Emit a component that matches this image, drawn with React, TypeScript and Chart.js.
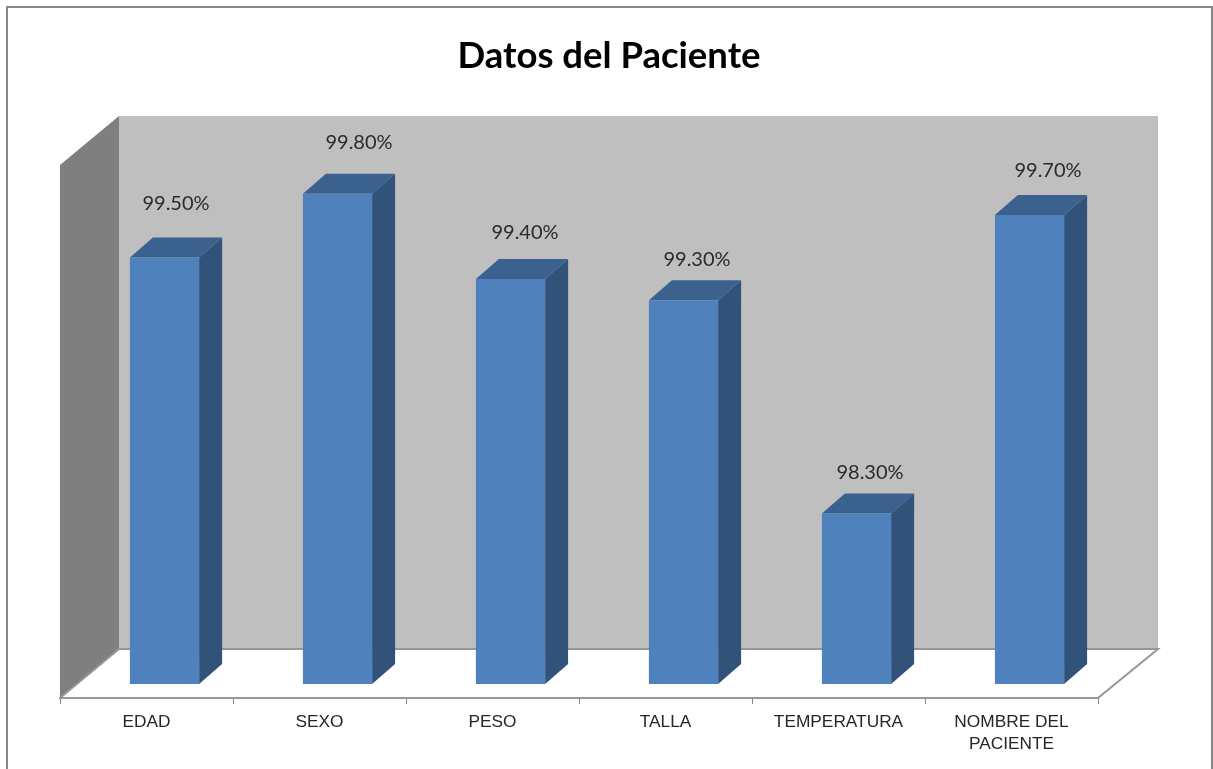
import React, { useEffect, useRef } from "react";
import { Chart, registerables } from "chart.js";

Chart.register(...registerables);

const categories: (string | string[])[] = ["EDAD", "SEXO", "PESO", "TALLA", "TEMPERATURA", ["NOMBRE DEL", "PACIENTE"]];
const seriesValues = [99.5, 99.8, 99.4, 99.3, 98.3, 99.7];
const chartTitle = "Datos del Paciente";
const axisFloor = 97.5;
const axisCeiling = 100;

const labelNudgeX = [11.5, 21.5, 14.5, 13.5, 13.5, 18.5];
const labelRise = [54, 51, 46, 41, 41, 44.5];

const WALL_DX = 59;
const WALL_DY = 49;
const BAR_SHIFT_X = 18;
const BAR_SHIFT_Y = -14;
const BAR_DX = 23;
const BAR_DY = 20;

const poly = (ctx: CanvasRenderingContext2D, pts: number[][], fill: string, stroke?: string) => {
  ctx.beginPath();
  pts.forEach(([x, y], i) => (i ? ctx.lineTo(x, y) : ctx.moveTo(x, y)));
  ctx.closePath();
  ctx.fillStyle = fill;
  ctx.fill();
  if (stroke) {
    ctx.strokeStyle = stroke;
    ctx.lineWidth = 1;
    ctx.stroke();
  }
};

const scene3d = {
  id: "scene3d",
  beforeDraw(chart: any) {
    const { ctx, width, height, chartArea: a } = chart;
    const { left: l, right: r, top: t, bottom: b } = a;
    const d = WALL_DX;
    const e = WALL_DY;
    ctx.save();
    ctx.fillStyle = "#ffffff";
    ctx.fillRect(0, 0, width, height);
    ctx.strokeStyle = "#868686";
    ctx.lineWidth = 2;
    ctx.strokeRect(7, 7, 1205, 800);
    poly(ctx, [[l + d, t - e], [r + d + 1, t - e], [r + d + 1, b - e], [l + d, b - e]], "#bfbfbf");
    poly(ctx, [[l, t], [l + d, t - e], [l + d, b - e], [l, b]], "#7f7f7f");
    poly(ctx, [[l, b], [l + d, b - e], [r + d + 1, b - e], [r, b]], "#ffffff");
    ctx.strokeStyle = "#969696";
    ctx.lineWidth = 2;
    ctx.beginPath();
    ctx.moveTo(l, b);
    ctx.lineTo(l + d, b - e);
    ctx.lineTo(r + d + 1, b - e);
    ctx.lineTo(r, b);
    ctx.stroke();
    ctx.restore();
  },
  beforeDatasetDraw(chart: any, args: any) {
    const { ctx } = chart;
    ctx.save();
    ctx.translate(BAR_SHIFT_X, BAR_SHIFT_Y);
    for (const el of args.meta.data) {
      const x0 = el.x - el.width / 2;
      const x1 = el.x + el.width / 2;
      poly(ctx, [[x1, el.y], [x1 + BAR_DX, el.y - BAR_DY], [x1 + BAR_DX, el.base - BAR_DY], [x1, el.base]], "#315279");
      poly(ctx, [[x0, el.y], [x0 + BAR_DX, el.y - BAR_DY], [x1 + BAR_DX, el.y - BAR_DY], [x1, el.y]], "#3b618f");
    }
  },
  afterDatasetDraw(chart: any) {
    chart.ctx.restore();
  },
  afterDatasetsDraw(chart: any) {
    const { ctx } = chart;
    const meta = chart.getDatasetMeta(0);
    ctx.save();
    ctx.font = "20px Lato";
    ctx.fillStyle = "#2b2b2b";
    ctx.textAlign = "center";
    ctx.textBaseline = "middle";
    meta.data.forEach((el: any, i: number) => {
      const text = seriesValues[i].toFixed(2) + "%";
      ctx.fillText(text, el.x + BAR_SHIFT_X + labelNudgeX[i], el.y + BAR_SHIFT_Y - labelRise[i]);
    });
    ctx.restore();
  },
};

export default function App() {
  const ref = useRef<HTMLCanvasElement>(null);
  useEffect(() => {
    const hidden = { ticks: { display: false }, grid: { display: false }, border: { display: false } };
    const chart = new Chart(ref.current!, {
      type: "bar",
      data: {
        labels: categories as any,
        datasets: [
          {
            label: "Datos del Paciente",
            data: seriesValues,
            base: axisFloor,
            backgroundColor: "#4f81bd",
            barPercentage: 0.4,
            categoryPercentage: 1,
            clip: false as any,
            yAxisID: "y",
          },
        ],
      },
      options: {
        responsive: false,
        animation: false,
        layout: { padding: { left: 5, right: 0, top: 0, bottom: 0 } },
        plugins: {
          legend: { display: false },
          tooltip: { enabled: false },
          title: {
            display: true,
            text: chartTitle,
            color: "#000000",
            font: { family: "Lato", size: 36.5, weight: "bold", lineHeight: 1.2 },
            padding: { top: 34, bottom: 87.2 },
          },
        },
        scales: {
          x: {
            offset: true,
            grid: { display: true, drawOnChartArea: false, drawTicks: true, tickLength: 6, color: "#868686", offset: true },
            border: { display: true, color: "#969696", width: 2 },
            ticks: {
              color: "#262626",
              font: { family: "Liberation Sans", size: 17.3, lineHeight: 1.27 },
              maxRotation: 0,
              autoSkip: false,
              padding: 7,
            },
            afterFit: (s: any) => {
              s.height = 71;
            },
          },
          y: {
            min: axisFloor,
            max: axisCeiling,
            position: "left",
            ...hidden,
            afterFit: (s: any) => {
              s.width = 55;
            },
          },
          y2: {
            position: "right",
            ...hidden,
            afterFit: (s: any) => {
              s.width = 115;
            },
          },
        },
      } as any,
      plugins: [scene3d],
    });
    return () => chart.destroy();
  }, []);
  return (
    <canvas
      ref={ref}
      width={1213}
      height={769}
      style={{ position: "absolute", left: 0, top: 0, display: "block" }}
    />
  );
}
